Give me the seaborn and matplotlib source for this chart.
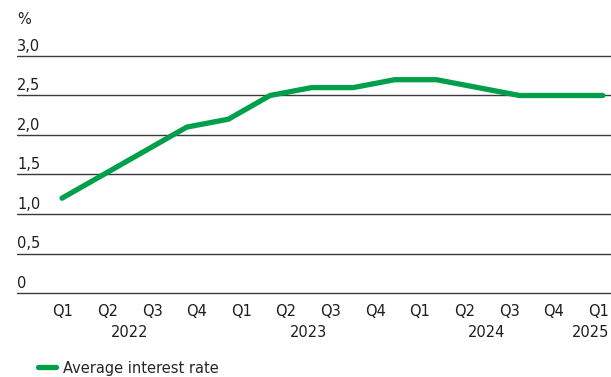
import numpy as np
import pandas as pd
import matplotlib
matplotlib.use("Agg")
import matplotlib.pyplot as plt
import matplotlib.transforms as mtransforms
import seaborn as sns

# ---- data ----
rate = [1.2, 1.5, 1.8, 2.1, 2.2, 2.5, 2.6, 2.6, 2.7, 2.7, 2.6, 2.5, 2.5, 2.5]
quarter_labels = ["Q1", "Q2", "Q3", "Q4", "Q1", "Q2", "Q3", "Q4",
                  "Q1", "Q2", "Q3", "Q4", "Q1"]
year_labels = ["2022", "2023", "2024", "2025"]
year_positions = [1.5, 5.5, 9.5, 12.0]   # in quarter-label units
y_ticks = [0, 0.5, 1.0, 1.5, 2.0, 2.5, 3.0]
y_tick_labels = ["0", "0,5", "1,0", "1,5", "2,0", "2,5", "3,0"]
series_name = "Average interest rate"

df = pd.DataFrame({"x": np.arange(len(rate)), "rate": rate, "series": series_name})

sns.set_style("white")
plt.rcParams["font.family"] = ["DejaVu Sans"]
FS = 10.5
plt.rcParams["font.size"] = FS
TXT = "#1e1e1e"

W, H = 611, 377
fig = plt.figure(figsize=(W / 100, H / 100), dpi=100)
left_px, right_px, top_px, bottom_px = 17, 611, 56, 293
ax = fig.add_axes([left_px / W, 1 - bottom_px / H,
                   (right_px - left_px) / W, (bottom_px - top_px) / H])

green = "#00a04b"
sns.lineplot(data=df, x="x", y="rate", hue="series", palette=[green],
             linewidth=3.8, ax=ax, legend=True, clip_on=False, zorder=3)
for ln in ax.get_lines():
    ln.set_solid_capstyle("round")
    ln.set_solid_joinstyle("round")

# x-scale: line points 41.6 px apart, first at pixel 62
step = 41.6
ax.set_xlim((left_px - 62) / step, (right_px - 62) / step)
ax.set_ylim(0, 3.0)

for s in ax.spines.values():
    s.set_visible(False)

# gridlines
for v in y_ticks:
    ax.axhline(v, color="#3a3a3a", lw=1.0, zorder=1, clip_on=False)

# y tick labels above gridlines, left aligned
ax.set_yticks([])
trans = mtransforms.blended_transform_factory(ax.transAxes, ax.transData)
off = mtransforms.offset_copy(trans, fig=fig, x=0, y=5, units="dots")
for v, lab in zip(y_ticks, y_tick_labels):
    ax.text(0, v, lab, transform=off, ha="left", va="baseline",
            fontsize=FS, color=TXT)
ax.text(0, 3.0, "%", transform=mtransforms.offset_copy(trans, fig=fig, x=0, y=32, units="dots"),
        ha="left", va="baseline", fontsize=FS, color=TXT)

# x tick labels (quarter labels spaced 44.6 px)
lab_step = 44.6 / step
x_tick_pos = (63 - 62) / step + np.arange(len(quarter_labels)) * lab_step
ax.set_xticks(x_tick_pos)
ax.set_xticklabels(quarter_labels, fontsize=FS, color=TXT)
ax.tick_params(axis="x", length=0, pad=8)
ax.set_xlabel("")
ax.set_ylabel("")

transx = mtransforms.blended_transform_factory(ax.transData, ax.transAxes)
yoff = mtransforms.offset_copy(transx, fig=fig, x=0, y=-32, units="dots")
for i, (p, lab) in enumerate(zip(year_positions, year_labels)):
    xpos = (63 - 62) / step + p * lab_step
    if i == len(year_labels) - 1:
        ax.text(1.0, 0, lab, transform=mtransforms.offset_copy(
            ax.transAxes, fig=fig, x=-2, y=-32, units="dots"),
            ha="right", va="top", fontsize=FS, color=TXT, clip_on=False)
    else:
        ax.text(xpos, 0, lab, transform=yoff,
                ha="center", va="top", fontsize=FS, color=TXT, clip_on=False)

# legend
handles, labels = ax.get_legend_handles_labels()
ax.legend(handles, labels, loc="center left", bbox_to_anchor=(38 / W, 1 - 368 / H),
          bbox_transform=fig.transFigure, frameon=False, fontsize=FS,
          handlelength=1.25, handletextpad=0.45, borderaxespad=0, borderpad=0)

fig.savefig("out.png", dpi=100)
